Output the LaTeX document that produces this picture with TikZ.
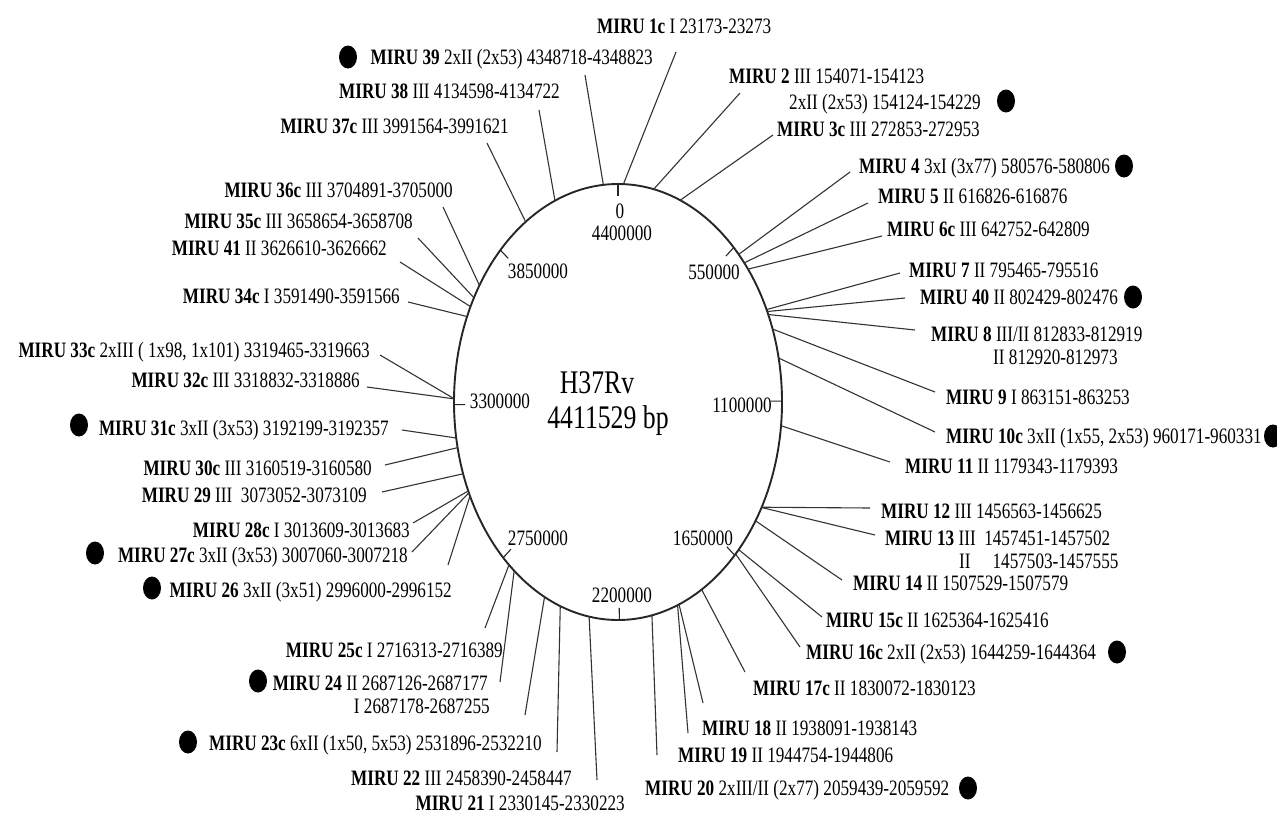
\documentclass[tikz,border=0pt]{standalone}
\usepackage{fontspec}
\setmainfont{Liberation Serif}[FakeStretch=0.78]
\usetikzlibrary{shapes.geometric}
\newcommand\mirulink[4]{%
  \coordinate (p#1) at ({618+164*sin(#2)},{402-218*cos(#2)});
  \coordinate (e#1) at (#3,#4);
  \draw[leader] (p#1) -- (e#1);}
\newcommand\gtick[2]{%
  \coordinate (k#1) at ({618+164*sin(#2)},{402-218*cos(#2)});
  \coordinate (q#1) at ({618+153*sin(#2)},{402-206*cos(#2)});
  \draw[tickline] (k#1) -- (q#1);}
\begin{document}
\begin{tikzpicture}[x=1pt,y=-1pt,
  lbl/.style={inner sep=0pt, font=\fontsize{22}{26}\selectfont},
  lw/.style={lbl, anchor=base east},
  rw/.style={lbl, anchor=base west},
  tl/.style={lbl, anchor=base},
  bullet/.style={ellipse, fill=black, draw=none, inner sep=0pt, minimum width=18pt, minimum height=23pt},
  leader/.style={draw=black!80, line width=1.1pt},
  tickline/.style={draw=black!85, line width=1.1pt},
  ring/.style={draw=black!85, line width=1.9pt}]
\useasboundingbox (0,0) rectangle (1277,814);
% genome circle
\draw[ring] (618,402) ellipse [x radius=164pt, y radius=218pt];
\gtick{0}{0}
\gtick{550}{44.883}
\gtick{1100}{89.765}
\gtick{1650}{134.648}
\gtick{2200}{179.530}
\gtick{2750}{224.413}
\gtick{3300}{269.296}
\gtick{3850}{314.178}
\node[tl] (l0) at (620,218) {0};
\node[tl] (l4400) at (622,240) {4400000};
\node[tl] (l550) at (714,279) {550000};
\node[tl] (l3850) at (538,278) {3850000};
\node[tl] (l3300) at (500,408) {3300000};
\node[tl] (l1100) at (742,412) {1100000};
\node[tl] (l2750) at (538,545) {2750000};
\node[tl] (l1650) at (703,545) {1650000};
\node[tl] (l2200) at (622,602) {2200000};
\node[inner sep=0pt, anchor=base, font=\fontsize{33}{38}\selectfont] (strain) at (597,393) {H37Rv};
\node[inner sep=0pt, anchor=base, font=\fontsize{33}{38}\selectfont] (size) at (608,428) {4411529 bp};
% leader lines
\mirulink{1c}{1.891}{676}{52}
\mirulink{2}{12.573}{740}{93}
\mirulink{3c}{22.266}{773}{135}
\mirulink{4}{47.378}{850}{172}
\mirulink{5}{50.336}{868}{203}
\mirulink{6c}{52.451}{882}{236}
\mirulink{7}{64.913}{900}{273}
\mirulink{40}{65.482}{905}{298}
\mirulink{8}{66.331}{915}{330}
\mirulink{9}{70.437}{935}{392}
\mirulink{10c}{78.354}{935}{432}
\mirulink{11}{96.240}{890}{462}
\mirulink{12}{118.862}{870}{508}
\mirulink{13}{118.934}{875}{535}
\mirulink{14}{123.021}{842}{580}
\mirulink{15c}{132.637}{822}{617}
\mirulink{16c}{134.179}{800}{647}
\mirulink{17c}{149.342}{745}{672}
\mirulink{18}{158.157}{703}{703}
\mirulink{19}{158.700}{688}{733}
\mirulink{20}{168.059}{657}{755}
\mirulink{21}{190.150}{597}{780}
\mirulink{22}{200.615}{557}{752}
\mirulink{23c}{206.614}{525}{715}
\mirulink{24}{219.281}{500}{682}
\mirulink{25c}{221.663}{485}{628}
\mirulink{26}{244.487}{448}{565}
\mirulink{27c}{245.389}{412}{552}
\mirulink{28c}{245.924}{413}{523}
\mirulink{29}{250.774}{382}{492}
\mirulink{30c}{257.912}{385}{465}
\mirulink{31c}{260.497}{402}{430}
\mirulink{32c}{270.831}{367}{387}
\mirulink{33c}{270.883}{380}{355}
\mirulink{34c}{293.081}{408}{302}
\mirulink{41}{295.947}{400}{262}
\mirulink{35c}{298.562}{418}{238}
\mirulink{36c}{302.335}{443}{207}
\mirulink{37c}{325.729}{487}{143}
\mirulink{38}{337.401}{539}{110}
\mirulink{39}{354.874}{585}{75}
% right-hand labels
\node[rw] (t1c) at (597,33) {\textbf{MIRU 1c} I 23173-23273};
\node[rw] (t2) at (729,83) {\textbf{MIRU 2} III 154071-154123};
\node[rw] (t2b) at (789,109) {2xII (2x53) 154124-154229};
\node[bullet] (d2) at (1006,101) {};
\node[rw] (t3c) at (777,136) {\textbf{MIRU 3c} III 272853-272953};
\node[rw] (t4) at (859,173) {\textbf{MIRU 4} 3xI (3x77) 580576-580806};
\node[bullet] (d4) at (1124,166) {};
\node[rw] (t5) at (878,203) {\textbf{MIRU 5} II 616826-616876};
\node[rw] (t6c) at (887,236) {\textbf{MIRU 6c} III 642752-642809};
\node[rw] (t7) at (909,277) {\textbf{MIRU 7} II 795465-795516};
\node[rw] (t40) at (920,304) {\textbf{MIRU 40} II 802429-802476};
\node[bullet] (d40) at (1133,297) {};
\node[rw] (t8) at (931,341) {\textbf{MIRU 8} III/II 812833-812919};
\node[rw] (t8b) at (993,364) {II 812920-812973};
\node[rw] (t9) at (946,404) {\textbf{MIRU 9} I 863151-863253};
\node[rw] (t10c) at (946,443) {\textbf{MIRU 10c} 3xII (1x55, 2x53) 960171-960331};
\node[bullet] (d10c) at (1273,436) {};
\node[rw] (t11) at (905,473) {\textbf{MIRU 11} II 1179343-1179393};
\node[rw] (t12) at (881,518) {\textbf{MIRU 12} III 1456563-1456625};
\node[rw] (t13) at (885,545) {\textbf{MIRU 13} III\ \ 1457451-1457502};
\node[rw] (t13b) at (959,568) {II\hspace{22pt}1457503-1457555};
\node[rw] (t14) at (853,590) {\textbf{MIRU 14} II 1507529-1507579};
\node[rw] (t15c) at (826,627) {\textbf{MIRU 15c} II 1625364-1625416};
\node[rw] (t16c) at (806,659) {\textbf{MIRU 16c} 2xII (2x53) 1644259-1644364};
\node[bullet] (d16c) at (1117,652) {};
\node[rw] (t17c) at (753,695) {\textbf{MIRU 17c} II 1830072-1830123};
\node[rw] (t18) at (702,735) {\textbf{MIRU 18} II 1938091-1938143};
\node[rw] (t19) at (678,762) {\textbf{MIRU 19} II 1944754-1944806};
\node[rw] (t20) at (645,795) {\textbf{MIRU 20} 2xIII/II (2x77) 2059439-2059592};
\node[bullet] (d20) at (968,788) {};
% left-hand labels
\node[lw] (t39) at (653,64) {\textbf{MIRU 39} 2xII (2x53) 4348718-4348823};
\node[bullet] (d39) at (348,57) {};
\node[lw] (t38) at (560,98) {\textbf{MIRU 38} III 4134598-4134722};
\node[lw] (t37c) at (509,133) {\textbf{MIRU 37c} III 3991564-3991621};
\node[lw] (t36c) at (453,197) {\textbf{MIRU 36c} III 3704891-3705000};
\node[lw] (t35c) at (413,228) {\textbf{MIRU 35c} III 3658654-3658708};
\node[lw] (t41) at (387,255) {\textbf{MIRU 41} II 3626610-3626662};
\node[lw] (t34c) at (400,303) {\textbf{MIRU 34c} I 3591490-3591566};
\node[lw] (t33c) at (370,357) {\textbf{MIRU 33c} 2xIII ( 1x98, 1x101) 3319465-3319663};
\node[lw] (t32c) at (360,387) {\textbf{MIRU 32c} III 3318832-3318886};
\node[lw] (t31c) at (389,435) {\textbf{MIRU 31c} 3xII (3x53) 3192199-3192357};
\node[bullet] (d31c) at (79,425) {};
\node[lw] (t30c) at (372,475) {\textbf{MIRU 30c} III 3160519-3160580};
\node[lw] (t29) at (367,502) {\textbf{MIRU 29} III\ \ 3073052-3073109};
\node[lw] (t28c) at (410,537) {\textbf{MIRU 28c} I 3013609-3013683};
\node[lw] (t27c) at (408,562) {\textbf{MIRU 27c} 3xII (3x53) 3007060-3007218};
\node[bullet] (d27c) at (95,553) {};
\node[lw] (t26) at (452,597) {\textbf{MIRU 26} 3xII (3x51) 2996000-2996152};
\node[bullet] (d26) at (152,588) {};
\node[lw] (t25c) at (503,657) {\textbf{MIRU 25c} I 2716313-2716389};
\node[lw] (t24) at (488,690) {\textbf{MIRU 24} II 2687126-2687177};
\node[lw] (t24b) at (490,713) {I 2687178-2687255};
\node[bullet] (d24) at (258,681) {};
\node[lw] (t23c) at (542,750) {\textbf{MIRU 23c} 6xII (1x50, 5x53) 2531896-2532210};
\node[bullet] (d23c) at (188,742) {};
\node[lw] (t22) at (572,785) {\textbf{MIRU 22} III 2458390-2458447};
\node[lw] (t21) at (625,810) {\textbf{MIRU 21} I 2330145-2330223};
\end{tikzpicture}
\end{document}
